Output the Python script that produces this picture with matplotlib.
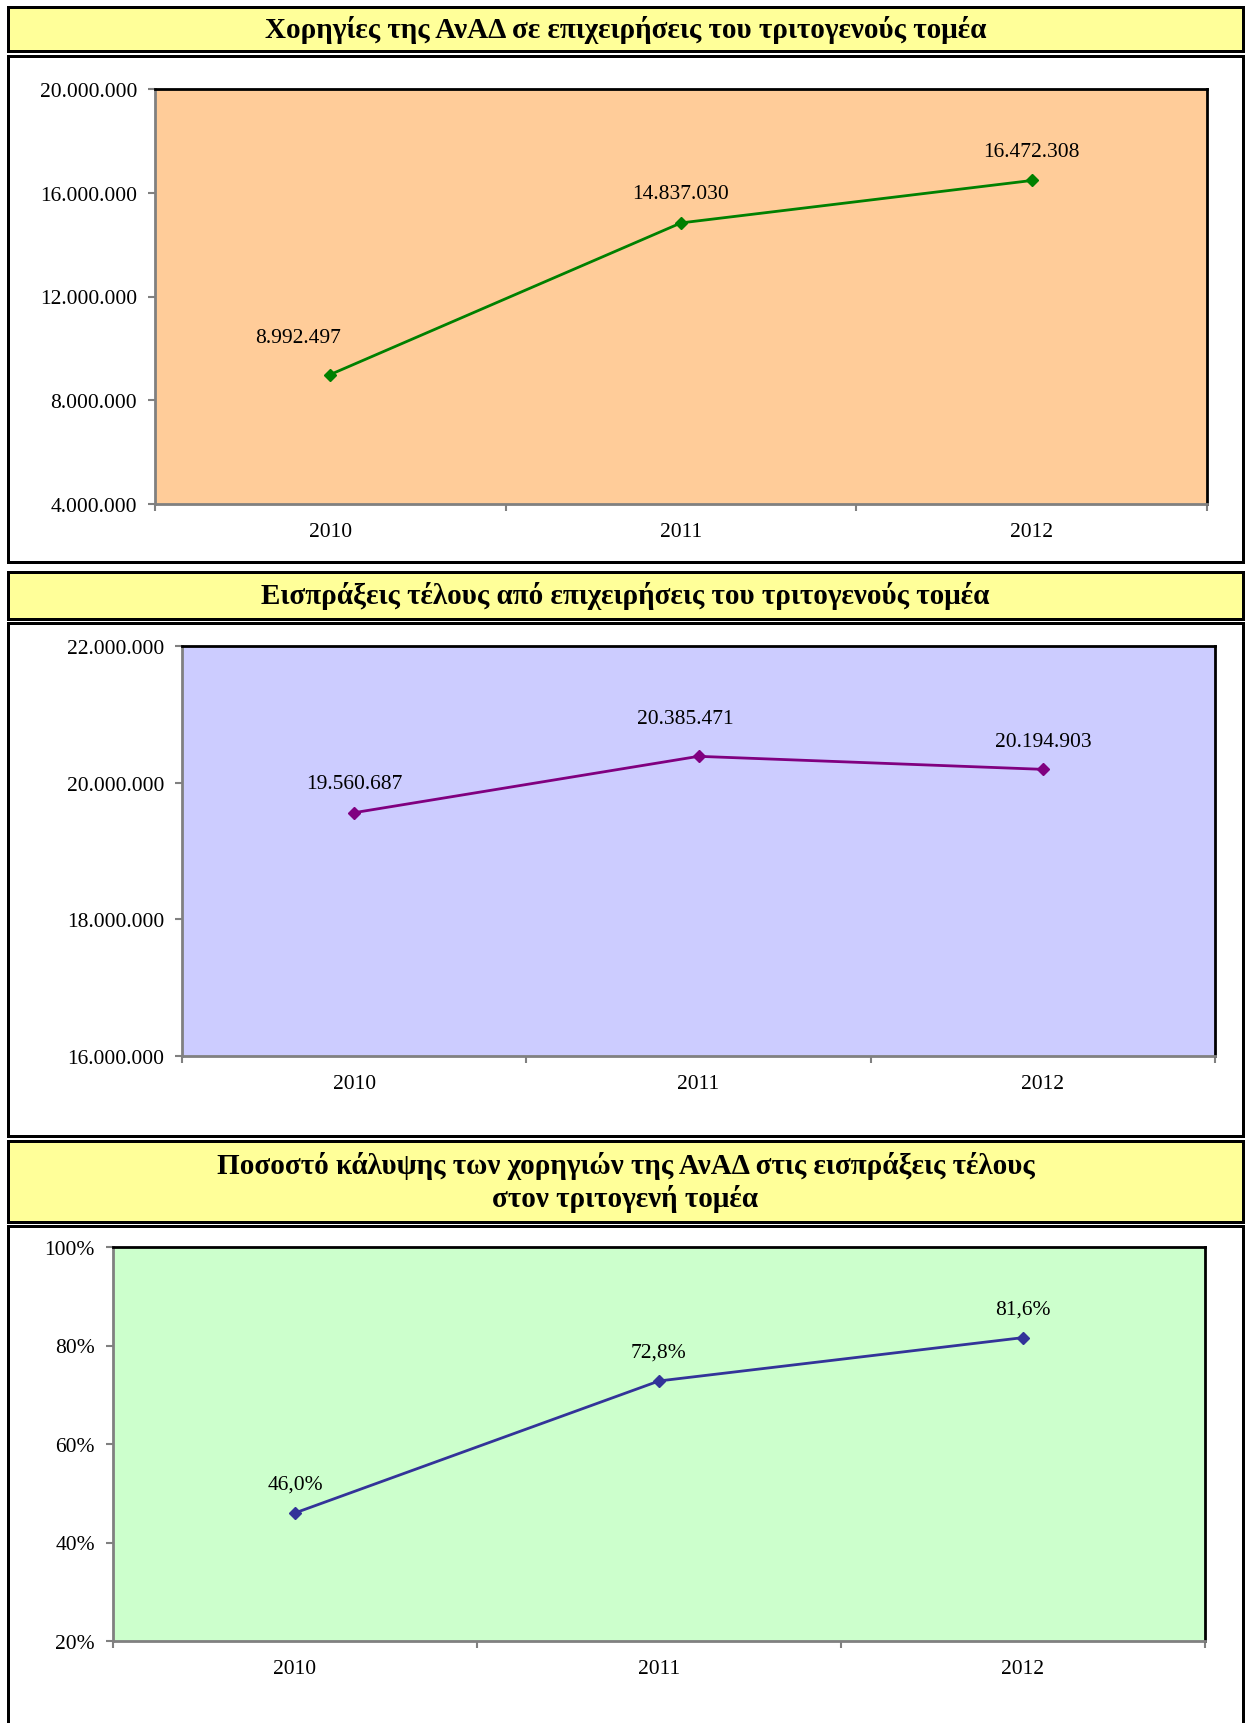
import matplotlib
matplotlib.use("Agg")
from matplotlib import pyplot as plt
from matplotlib.patches import Rectangle
from matplotlib.ticker import FuncFormatter

# Δεδομένα
years = ['2010', '2011', '2012']
grants = [8992497, 14837030, 16472308]
receipts = [19560687, 20385471, 20194903]
coverage = [46.0, 72.8, 81.6]

titles = ['Χορηγίες της ΑνΑΔ σε επιχειρήσεις του τριτογενούς τομέα',
          'Εισπράξεις τέλους από επιχειρήσεις του τριτογενούς τομέα',
          'Ποσοστό κάλυψης των χορηγιών της ΑνΑΔ στις εισπράξεις τέλους\nστον τριτογενή τομέα']

W, H = 1245, 1724
plt.rcParams['font.family'] = ['Liberation Serif', 'DejaVu Serif']
fig = plt.figure(figsize=(W / 100, H / 100), dpi=100)


def box(x0, y0, x1, y1, color='white', lw=3):
    fig.add_artist(Rectangle((x0 / W, 1 - y1 / H), (x1 - x0) / W, (y1 - y0) / H,
                             transform=fig.transFigure, facecolor=color,
                             edgecolor='black', linewidth=lw * 0.72, zorder=0))


def dots(v, pos=None):
    return f'{int(round(v)):,}'.replace(',', '.')


def pct(v, pos=None):
    return f'{v:.0f}%'


def grdec(v):
    return f'{v:.1f}%'.replace('.', ',')


# (τίτλος box, πλαίσιο, περιοχή γραφήματος)
layout = [
    ((8, 8, 1243, 52), (8, 57, 1243, 563), (155, 90, 1207, 505)),
    ((8, 573, 1243, 620), (8, 624, 1243, 1137), (182, 647, 1215, 1057)),
    ((8, 1142, 1243, 1223), (8, 1227, 1243, 1740), (113, 1248, 1205, 1642)),
]
series = [grants, receipts, coverage]
bgs = ['#FFCC99', '#CCCCFF', '#CCFFCC']
lines = ['#008000', '#800080', '#333399']
ylims = [(4e6, 20e6, 4e6), (16e6, 22e6, 2e6), (20, 100, 20)]
fmts = [dots, dots, pct]
lab_fmts = [dots, dots, grdec]
xoffs = [[-32, 0, 0], [0, -13, 0], [0, 0, 0]]
yoffs = [[37, 29, 29], [29, 38, 28], [29, 29, 29]]

for i in range(3):
    tb, fb, pb = layout[i]
    box(*tb, color='#FFFF99')
    box(*fb)
    fig.text((tb[0] + tb[2]) / 2 / W, 1 - (tb[1] + tb[3]) / 2 / H, titles[i],
             ha='center', va='center', fontsize=21, fontweight='bold', linespacing=1.2)

    x0, y0, x1, y1 = pb
    ax = fig.add_axes([x0 / W, 1 - y1 / H, (x1 - x0) / W, (y1 - y0) / H])
    ax.set_facecolor(bgs[i])
    xs = range(len(years))
    ax.plot(xs, series[i], color=lines[i], lw=2, marker='D', markersize=6.5, zorder=3)
    for j, v in enumerate(series[i]):
        ax.annotate(lab_fmts[i](v), (j, v), xytext=(xoffs[i][j], yoffs[i][j]),
                    textcoords='offset pixels', ha='center', va='center', fontsize=15.5)

    lo, hi, step = ylims[i]
    ax.set_ylim(lo, hi)
    ax.set_yticks([lo + k * step for k in range(int(round((hi - lo) / step)) + 1)])
    ax.yaxis.set_major_formatter(FuncFormatter(fmts[i]))
    ax.set_xlim(-0.5, 2.5)
    ax.set_xticks(list(xs))
    ax.set_xticklabels(years)
    ax.set_xticks([-0.5, 0.5, 1.5, 2.5], minor=True)
    ax.tick_params(axis='x', which='major', length=0, pad=13, labelsize=15.5)
    ax.tick_params(axis='x', which='minor', length=5, width=1.5, color='#808080')
    ax.tick_params(axis='y', length=5, width=1.5, color='#808080', pad=8, labelsize=15.5)
    for s in ['left', 'bottom']:
        ax.spines[s].set_color('#808080')
        ax.spines[s].set_linewidth(2)
    for s in ['top', 'right']:
        ax.spines[s].set_color('black')
        ax.spines[s].set_linewidth(2)

fig.savefig('out.png', dpi=100)
